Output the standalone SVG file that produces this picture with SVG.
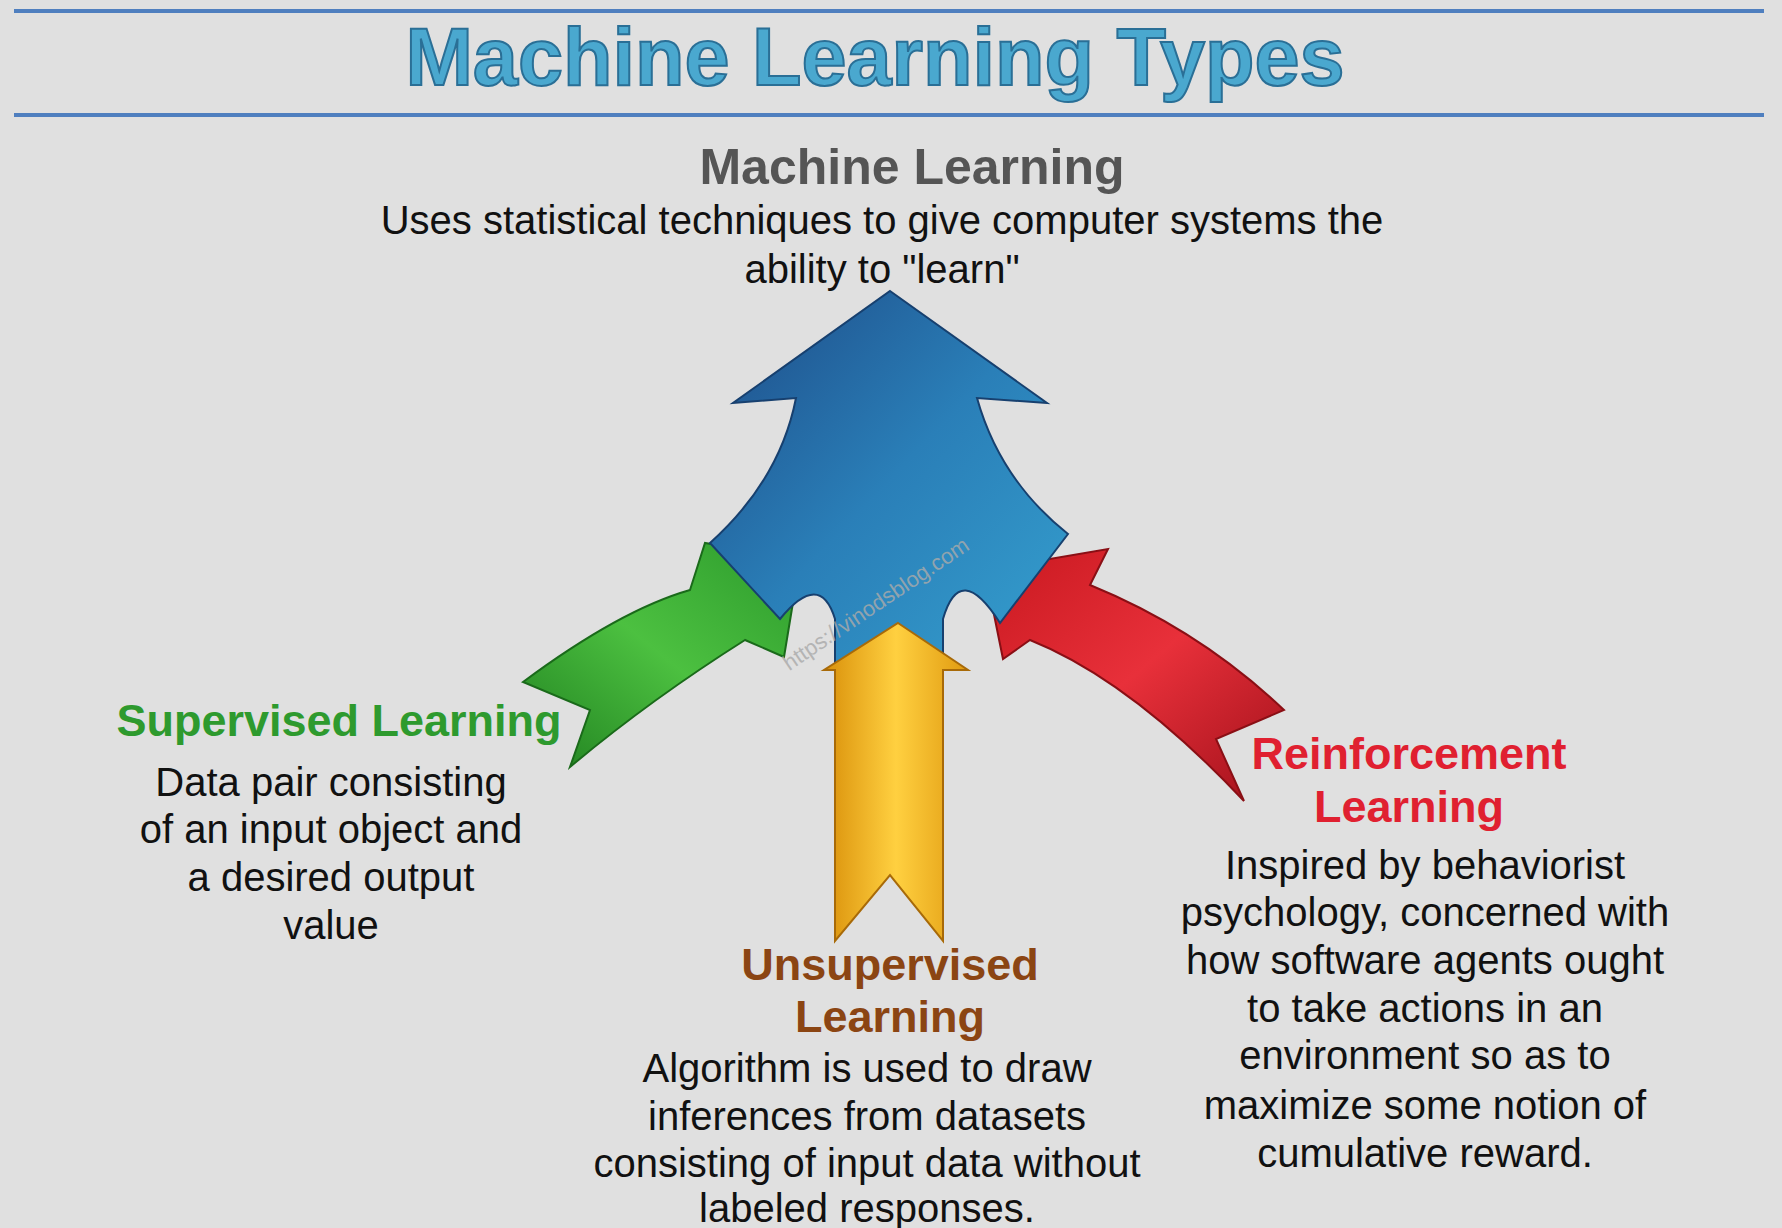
<svg xmlns="http://www.w3.org/2000/svg" width="1782" height="1228" viewBox="0 0 1782 1228">
<defs>
<linearGradient id="gb" x1="0" y1="0" x2="1" y2="1"><stop offset="0" stop-color="#1d4a86"/><stop offset="0.5" stop-color="#2a7fb8"/><stop offset="1" stop-color="#35a0cf"/></linearGradient>
<linearGradient id="gg" x1="0" y1="1" x2="1" y2="0"><stop offset="0" stop-color="#1f7f1f"/><stop offset="0.5" stop-color="#4cc040"/><stop offset="1" stop-color="#2c9a2c"/></linearGradient>
<linearGradient id="gr" x1="1" y1="1" x2="0" y2="0"><stop offset="0" stop-color="#a0101a"/><stop offset="0.5" stop-color="#e8303a"/><stop offset="1" stop-color="#c8181f"/></linearGradient>
<linearGradient id="go" x1="0" y1="0" x2="1" y2="0"><stop offset="0" stop-color="#d9900a"/><stop offset="0.5" stop-color="#ffd040"/><stop offset="1" stop-color="#e09a10"/></linearGradient>
<style>
text{font-family:"Liberation Sans",Arial,sans-serif;text-anchor:middle}
.b{font-size:40px;fill:#111}
.h{font-size:45px;font-weight:bold}
</style>
</defs>
<rect width="1782" height="1228" fill="#e0e0e0"/>
<line x1="14" y1="11" x2="1764" y2="11" stroke="#4f7fbf" stroke-width="4"/>
<line x1="14" y1="115" x2="1764" y2="115" stroke="#4f7fbf" stroke-width="4"/>
<text x="875" y="85" style="font-size:81px;font-weight:bold;fill:#4aa8cf;stroke:#2a6f96;stroke-width:2">Machine Learning Types</text>
<g id="root">
<text x="912" y="184" style="font-size:50px;font-weight:bold;fill:#555">Machine Learning</text>
<text class="b" x="882" y="234">Uses statistical techniques to give computer systems the</text>
<text class="b" x="882" y="283">ability to "learn"</text>
</g>
<g id="connectors">
<path d="M523,682 Q620,610 690,590 L705,543 L800,560 L784,657 L745,640 Q650,700 570,767 L590,710 Z" fill="url(#gg)" stroke="#1a6a1a" stroke-width="2"/>
<path d="M985,570 L1108,549 L1090,585 Q1200,630 1284,710 L1216,739 L1244,801 Q1130,680 1030,640 L1003,659 Z" fill="url(#gr)" stroke="#8a0f15" stroke-width="2"/>
<path d="M890,291 L1047,403 L977,398 Q1000,480 1068,534 L1000,623 Q960,560 943,619 L943,670 L835,670 L835,619 Q820,570 780,619 L710,543 Q780,480 796,398 L733,403 Z" fill="url(#gb)" stroke="#17406f" stroke-width="2"/>
<path d="M898,623 L968,670 L943,670 L943,941 L890,875 L835,941 L835,670 L824,670 Z" fill="url(#go)" stroke="#a86a08" stroke-width="2"/>
<text x="0" y="0" transform="translate(880,610) rotate(-34)" style="font-size:22px;fill:#aaa;opacity:0.8">https://vinodsblog.com</text>
</g>
<g id="supervised">
<text class="h" x="339" y="736" fill="#2e9a2e">Supervised Learning</text>
<text class="b" x="331" y="796">Data pair consisting</text>
<text class="b" x="331" y="843">of an input object and</text>
<text class="b" x="331" y="891">a desired output</text>
<text class="b" x="331" y="939">value</text>
</g>
<g id="unsupervised">
<text class="h" x="890" y="980" fill="#8b4513">Unsupervised</text>
<text class="h" x="890" y="1032" fill="#8b4513">Learning</text>
<text class="b" x="867" y="1082">Algorithm is used to draw</text>
<text class="b" x="867" y="1130">inferences from datasets</text>
<text class="b" x="867" y="1177">consisting of input data without</text>
<text class="b" x="867" y="1222">labeled responses.</text>
</g>
<g id="reinforcement">
<text class="h" x="1409" y="769" fill="#e02030">Reinforcement</text>
<text class="h" x="1409" y="822" fill="#e02030">Learning</text>
<text class="b" x="1425" y="879">Inspired by behaviorist</text>
<text class="b" x="1425" y="926">psychology, concerned with</text>
<text class="b" x="1425" y="974">how software agents ought</text>
<text class="b" x="1425" y="1022">to take actions in an</text>
<text class="b" x="1425" y="1069">environment so as to</text>
<text class="b" x="1425" y="1119">maximize some notion of</text>
<text class="b" x="1425" y="1167">cumulative reward.</text>
</g>
</svg>
